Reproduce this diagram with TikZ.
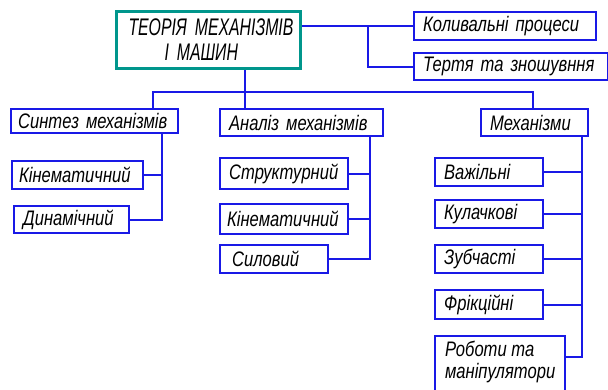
\documentclass[tikz,border=0pt]{standalone}
\usepackage{fontspec}
\usetikzlibrary{calc}
\newfontfamily\lblfont{Liberation Sans}[FakeStretch=0.79]
\newfontfamily\ttlfont{Liberation Sans}[FakeStretch=0.66]
\definecolor{bl}{RGB}{25,25,230}
\definecolor{tl}{RGB}{0,150,140}
\tikzset{
  bx/.style 2 args={draw=bl, line width=2.3pt, anchor=north west,
    minimum width=#1pt, minimum height=#2pt, inner xsep=7pt, inner ysep=1pt,
    text width={#1pt-14pt}, align=left,
    font=\lblfont\itshape\fontsize{21}{24}\selectfont},
  ln/.style={draw=bl, line width=2pt}
}
\begin{document}
\begin{tikzpicture}[x=1pt,y=-1pt]
\clip (0,0) rectangle (608,389);
\fill[white] (0,0) rectangle (608,389);
% top
\node[draw=tl, line width=3pt, anchor=north west, minimum width=184pt, minimum height=57pt,
  inner xsep=6pt, inner ysep=1pt, text width=172pt, align=left,
  font=\ttlfont\itshape\fontsize{24}{25}\selectfont] (top) at (115,10)
  {\hspace*{6pt}ТЕОРІЯ МЕХАНІЗМІВ\\\hspace*{42pt}І МАШИН};
\node[bx={182}{28}] (kol) at (413,11) {\hspace*{2pt}Коливальні процеси};
\node[bx={194}{27}] (ter) at (413,52) {\hspace*{2pt}Тертя та зношувння};
% level 1
\node[bx={167}{24}] (syn) at (10,108) {Синтез механізмів};
\node[bx={163}{27}] (an) at (219,108) {\hspace*{2pt}Аналіз механізмів};
\node[bx={107}{27}] (mech) at (480,108) {\hspace*{2pt}Механізми};
% synthesis
\node[bx={131}{28}] (kin1) at (11,160) {Кінематичний};
\node[bx={115}{27}] (dyn) at (13,205) {\hspace*{2pt}Динамічний};
% analysis
\node[bx={128}{31}] (str) at (219,157) {\hspace*{2pt}Структурний};
\node[bx={128}{30}] (kin2) at (219,203) {Кінематичний};
\node[bx={108}{28}] (sil) at (219,244) {\hspace*{5pt}Силовий};
% mechanisms
\node[bx={108}{28}] (vaz) at (434,157) {\hspace*{2pt}Важільні};
\node[bx={108}{28}] (kul) at (434,199) {\hspace*{2pt}Кулачкові};
\node[bx={108}{28}] (zub) at (434,244) {\hspace*{2pt}Зубчасті};
\node[bx={108}{29}] (fr) at (434,289) {\hspace*{2pt}Фрікційні};
\node[draw=bl, line width=2.3pt, anchor=north west, minimum width=130pt, minimum height=70pt,
  inner xsep=9pt, inner ysep=3pt,
  font=\lblfont\itshape\fontsize{21}{22}\selectfont] (rob) at (434,335)
  {\raisebox{0pt}[\height][\dimexpr\depth+16pt\relax]{\begin{tabular}{@{}l@{}}Роботи та\\маніпулятори\end{tabular}}};
% coordinates
\coordinate (tb) at (368,0);
\coordinate (tv) at (245,92);
\coordinate (sx) at (153,92);
\coordinate (mx) at (533,92);
\coordinate (sv) at (162,0);
\coordinate (av) at (370,0);
\coordinate (mv) at (582,0);
% connectors top
\draw[ln] (kol.west) -- (kol.west -| top.east);
\draw[ln] (ter.west) -| (tb |- kol.west);
\draw[ln] (top.south -| tv) -- (tv);
\draw[ln] (syn.north -| sx) -- (sx) -- (mx) -- (mx |- mech.north);
\draw[ln] (tv) -- (tv |- an.north);
% synthesis
\draw[ln] (syn.south -| sv) |- (dyn.east);
\draw[ln] (kin1.east) -- (kin1.east -| sv);
% analysis
\draw[ln] (an.south -| av) |- (sil.east);
\draw[ln] (str.east) -- (str.east -| av);
\draw[ln] (kin2.east) -- (kin2.east -| av);
% mechanisms
\draw[ln] (mech.south -| mv) |- ($(rob.north east)+(0,22)$);
\draw[ln] (vaz.east) -- (vaz.east -| mv);
\draw[ln] (kul.east) -- (kul.east -| mv);
\draw[ln] (zub.east) -- (zub.east -| mv);
\draw[ln] (fr.east) -- (fr.east -| mv);
\end{tikzpicture}
\end{document}
